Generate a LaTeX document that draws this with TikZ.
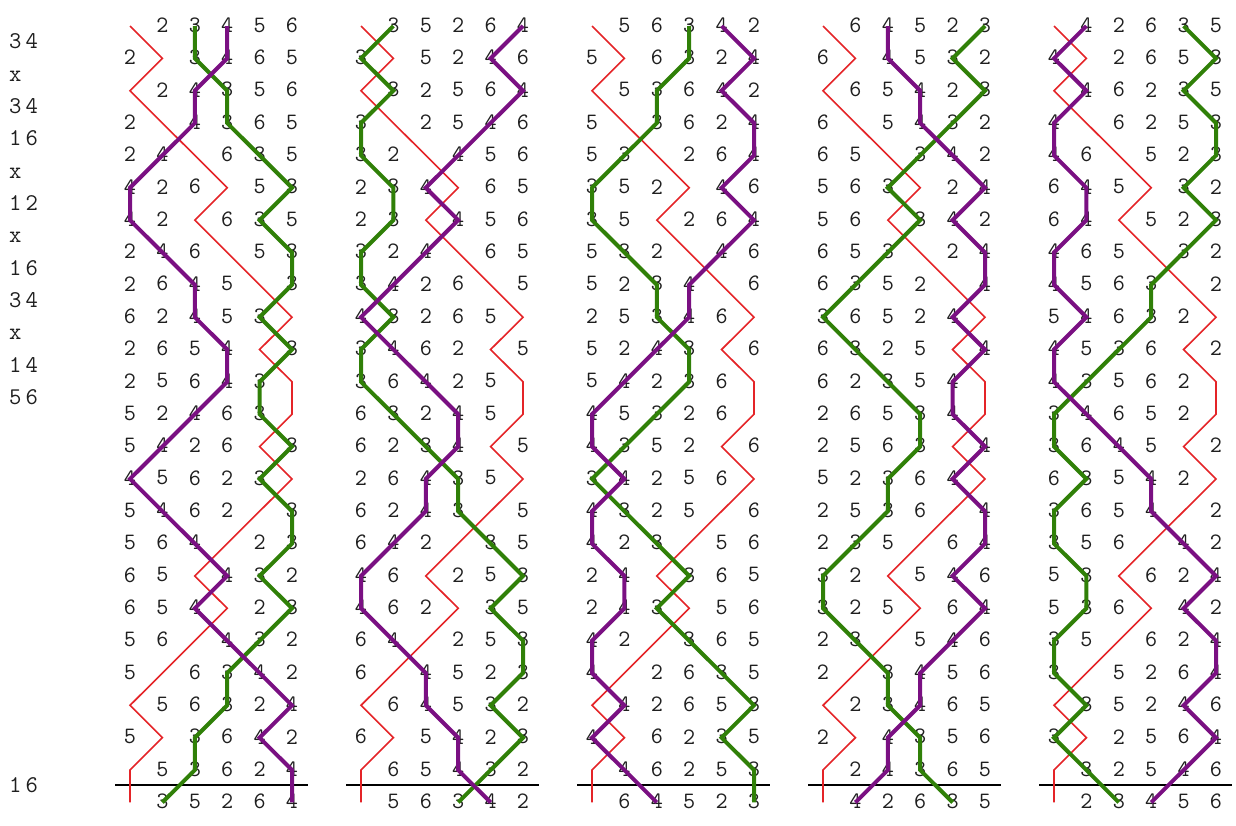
\documentclass[tikz,border=0pt]{standalone}
\usepackage{fontspec}
\definecolor{bellred}{RGB}{228,36,40}
\definecolor{bellpurple}{RGB}{122,16,130}
\definecolor{bellgreen}{RGB}{48,128,8}
\begin{document}
\begin{tikzpicture}[x=1pt,y=-1pt,
  digit/.style={font=\ttfamily\fontsize{23.5}{23.5}\selectfont, inner sep=0pt, text=black!88},
  lbl/.style={font=\ttfamily\fontsize{24}{24}\selectfont, inner sep=0pt, anchor=base west, text=black!88},
  treble/.style={draw=bellred, line width=1.6pt},
  workA/.style={draw=bellgreen, line width=4pt},
  workB/.style={draw=bellpurple, line width=4pt},
  leadend/.style={draw=black, line width=2pt}]
\useasboundingbox (0,0) rectangle (1236,825);

\foreach \col/\ha/\hb/\hc/\hd/\he/\hf in {1/1/2/3/4/5/6,2/1/3/5/2/6/4,3/1/5/6/3/4/2,4/1/6/4/5/2/3,5/1/4/2/6/3/5}{
  \pgfmathsetmacro\xo{130+231*(\col-1)}
  \foreach \r/\pa/\pb/\pc/\pd/\pe/\pf in {
1/1/2/3/4/5/6,
2/2/1/3/4/6/5,
3/1/2/4/3/5/6,
4/2/1/4/3/6/5,
5/2/4/1/6/3/5,
6/4/2/6/1/5/3,
7/4/2/1/6/3/5,
8/2/4/6/1/5/3,
9/2/6/4/5/1/3,
10/6/2/4/5/3/1,
11/2/6/5/4/1/3,
12/2/5/6/4/3/1,
13/5/2/4/6/3/1,
14/5/4/2/6/1/3,
15/4/5/6/2/3/1,
16/5/4/6/2/1/3,
17/5/6/4/1/2/3,
18/6/5/1/4/3/2,
19/6/5/4/1/2/3,
20/5/6/1/4/3/2,
21/5/1/6/3/4/2,
22/1/5/6/3/2/4,
23/5/1/3/6/4/2,
24/1/5/3/6/2/4,
25/1/3/5/2/6/4}{
    \pgfmathsetmacro\yo{25+32.35*(\r-1)}
    \foreach \q [count=\p] in {\pa,\pb,\pc,\pd,\pe,\pf}{
      \edef\bell{\ifcase\q\relax\or\ha\or\hb\or\hc\or\hd\or\he\or\hf\fi}
      \coordinate (c\col-\r-\bell) at ({\xo+32.4*(\p-1)},{\yo+1});
      \ifnum\bell>1 \node[digit] (d\col-\r-\p) at ({\xo+32.4*(\p-1)},\yo) {\bell};\fi
    }
  }
  \coordinate (bl\col) at ({\xo-15},785);
  \coordinate (br\col) at ({\xo+178},785);
  \draw[leadend] (bl\col) -- (br\col);
}

\foreach \col in {1,...,5}{
  \draw[treble] (c\col-1-1) \foreach \r in {2,...,25}{ -- (c\col-\r-1)};
  \draw[workA] (c\col-1-3) \foreach \r in {2,...,25}{ -- (c\col-\r-3)};
  \draw[workB] (c\col-1-4) \foreach \r in {2,...,25}{ -- (c\col-\r-4)};
}

\foreach \i/\t in {1/3\kern4pt4,2/x,3/3\kern4pt4,4/1\kern4pt6,5/x,6/1\kern4pt2,7/x,8/1\kern4pt6,9/3\kern4pt4,10/x,11/1\kern4pt4,12/5\kern4pt6,24/1\kern4pt6}
  \node[lbl] (pn\i) at (9,{25+32.35*(\i-0.5)+7.5}) {\t};
\end{tikzpicture}
\end{document}
